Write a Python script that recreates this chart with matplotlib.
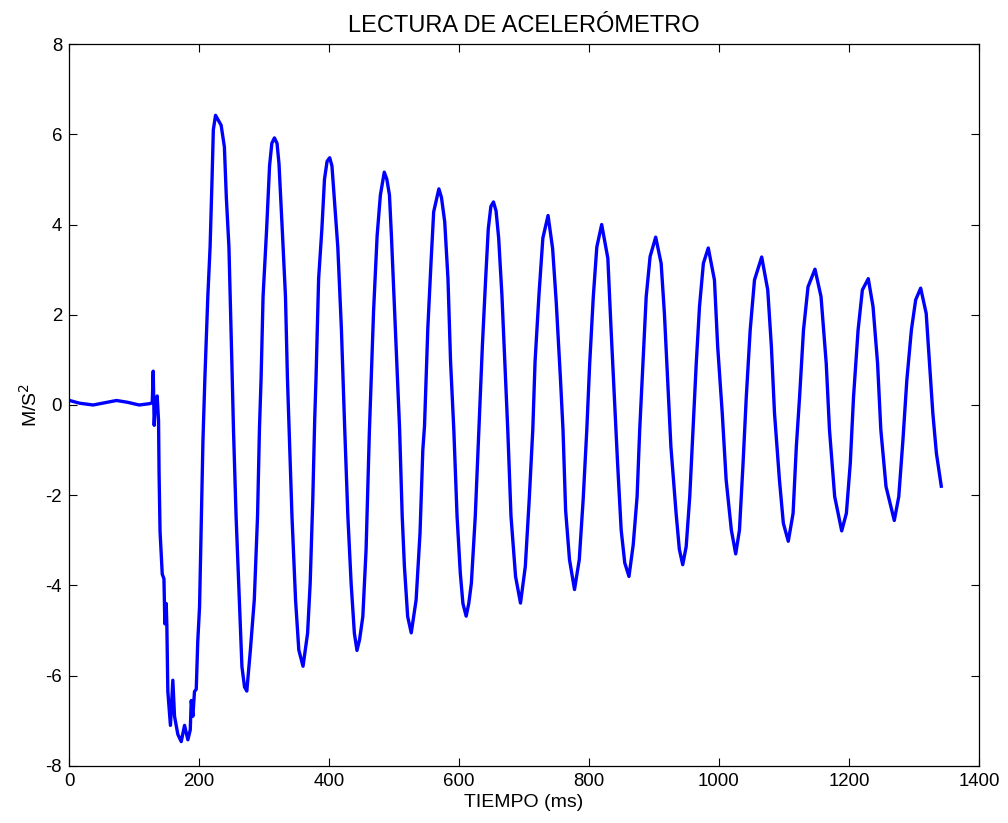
import matplotlib
matplotlib.use("Agg")
import matplotlib.pyplot as plt

# accelerometer reading, values
t_ms = [
    0.8, 16, 37, 55, 73, 90, 108, 124, 128, 129.5, 131, 133, 135.6, 137.7, 138.5,
    140, 143.4, 146, 147.4, 149.5, 150.5, 152, 156, 159.7, 162.3, 167.4, 172.6,
    177.7, 182.8, 186.5, 188, 190.5, 193, 195.7, 198, 200.8, 203, 206, 209,
    213.5, 217, 220, 222, 225.4, 230, 234, 239, 242, 246, 248, 250.5, 253,
    257, 262, 266, 270, 273.5, 279, 285, 290, 293, 295.5, 298.5, 304, 308.5,
    312, 316, 320, 323, 328, 333, 336, 338.5, 343, 348.5, 353.5, 360, 367,
    371, 375, 378, 380, 384, 389, 393, 397, 401, 404.5, 408, 413.5, 419, 424,
    429, 434, 439, 443, 447, 452, 457, 462, 468.5, 474, 479, 485, 489, 493,
    496, 501, 508.5, 512.6, 516, 521, 526.5, 534, 540, 544.3, 546.9, 552, 557,
    561, 569, 573, 578, 583, 587, 592, 597, 602, 606, 611, 615, 619, 625,
    630.5, 636, 641, 645, 649, 653, 657, 661, 666, 671.5, 675, 680, 687,
    694.6, 702, 708, 713.5, 717, 723, 729, 737, 744, 749.5, 756, 760, 764,
    770, 777.7, 785, 791, 796.6, 801, 806.6, 812, 819.5, 829, 834, 839, 844,
    849.5, 855, 861.5, 868, 874, 878, 883, 888, 894, 902.6, 911, 916, 921,
    926, 934, 939, 944.2, 949.5, 955, 960, 965, 970, 976, 983.5, 993, 998,
    1005, 1011, 1019, 1025.7, 1031.5, 1037, 1042, 1048, 1054.6, 1065.7, 1075,
    1080.6, 1085.4, 1093, 1099, 1106.6, 1114, 1119, 1124, 1130, 1137, 1147.7,
    1157, 1165, 1170, 1178, 1188.8, 1196, 1202, 1207, 1214, 1220.6, 1229.7,
    1237, 1244, 1249, 1257, 1269.7, 1276.6, 1283, 1289, 1296, 1302.6, 1310.3,
    1318.8, 1324, 1329, 1334.5, 1342,
]
accel = [
    0.10, 0.04, 0.0, 0.05, 0.10, 0.06, 0.0, 0.03, 0.05, 0.75, -0.45, 0.10, 0.20, -0.35, -1.5,
    -2.8, -3.75, -3.85, -4.85, -4.4, -4.9, -6.35, -7.1, -6.1, -6.9, -7.3, -7.46,
    -7.1, -7.42, -7.2, -6.55, -6.9, -6.35, -6.3, -5.25, -4.47, -2.9, -0.8, 0.6,
    2.4, 3.5, 5.0, 6.1, 6.42, 6.3, 6.2, 5.72, 4.6, 3.5, 2.4, 0.94, -0.55,
    -2.47, -4.32, -5.8, -6.25, -6.34, -5.43, -4.32, -2.47, -0.5, 0.6, 2.4, 3.9, 5.3,
    5.8, 5.92, 5.8, 5.35, 3.9, 2.4, 0.6, -0.5, -2.47, -4.32, -5.43, -5.79, -5.06,
    -3.95, -2.1, -0.3, 0.6, 2.8, 3.9, 5.0, 5.4, 5.48, 5.3, 4.6, 3.5, 1.7, -0.47,
    -2.47, -3.95, -5.06, -5.44, -5.2, -4.69, -3.21, -0.63, 2.07, 3.75, 4.65, 5.16, 5.0, 4.65,
    3.75, 2.07, -0.5, -2.47, -3.58, -4.69, -5.05, -4.32, -2.84, -1.0, -0.47, 1.7, 3.18,
    4.28, 4.79, 4.6, 4.06, 2.8, 0.96, -0.55, -2.47, -3.73, -4.4, -4.68, -4.4, -3.95, -2.47,
    -0.55, 1.33, 2.8, 3.9, 4.4, 4.5, 4.3, 3.7, 2.44, 0.6, -0.55, -2.47, -3.8,
    -4.39, -3.58, -2.1, -0.55, 0.96, 2.44, 3.7, 4.2, 3.47, 2.3, 0.6, -0.55, -2.33,
    -3.43, -4.09, -3.43, -2.1, -0.55, 0.9, 2.4, 3.5, 4.0, 3.25, 1.66, 0.18, -1.3,
    -2.77, -3.5, -3.8, -3.1, -2.03, -0.55, 0.92, 2.4, 3.29, 3.72, 3.14, 2.03, 0.55,
    -0.92, -2.4, -3.2, -3.54, -3.14, -2.03, -0.55, 0.92, 2.18, 3.14, 3.48, 2.77, 1.29,
    -0.18, -1.66, -2.77, -3.30, -2.77, -1.3, 0.18, 1.66, 2.77, 3.28, 2.55,
    1.3, -0.18, -1.66, -2.62, -3.02, -2.4, -0.92, 0.18, 1.66, 2.62, 3.01,
    2.4, 0.92, -0.55, -2.03, -2.79, -2.4, -1.29, 0.18, 1.66, 2.55, 2.80,
    2.18, 0.92, -0.55, -1.81, -2.56, -2.03, -0.78, 0.55, 1.66, 2.33, 2.59,
    2.03, 0.92, -0.18, -1.07, -1.8,
]

x_ticks = [0, 200, 400, 600, 800, 1000, 1200, 1400]
y_ticks = [-8, -6, -4, -2, 0, 2, 4, 6, 8]

plt.rcParams["font.family"] = ["Liberation Sans", "DejaVu Sans"]
plt.rcParams["axes.unicode_minus"] = False  # plain hyphen like the original

fig = plt.figure(figsize=(10.08, 8.23), dpi=100)
ax = fig.add_axes([0.0685, 0.0693, 0.9027, 0.8772])

ax.plot(t_ms, accel, color="#0000ff", linewidth=2.4, solid_joinstyle="round")

ax.set_xlim(0, 1400)
ax.set_ylim(-8, 8)
ax.set_xticks(x_ticks)
ax.set_yticks(y_ticks)
ax.tick_params(direction="in", top=True, right=True, length=6, width=0.8,
               labelsize=13.4, pad=5)
for s in ax.spines.values():
    s.set_linewidth(0.9)

ax.set_title("LECTURA DE ACELERÓMETRO", fontsize=17, pad=9)
ax.set_xlabel("TIEMPO (ms)", fontsize=14, labelpad=3)
ax.set_ylabel("M/S$^2$", fontsize=14, labelpad=3)

fig.savefig("out.png", dpi=100)
